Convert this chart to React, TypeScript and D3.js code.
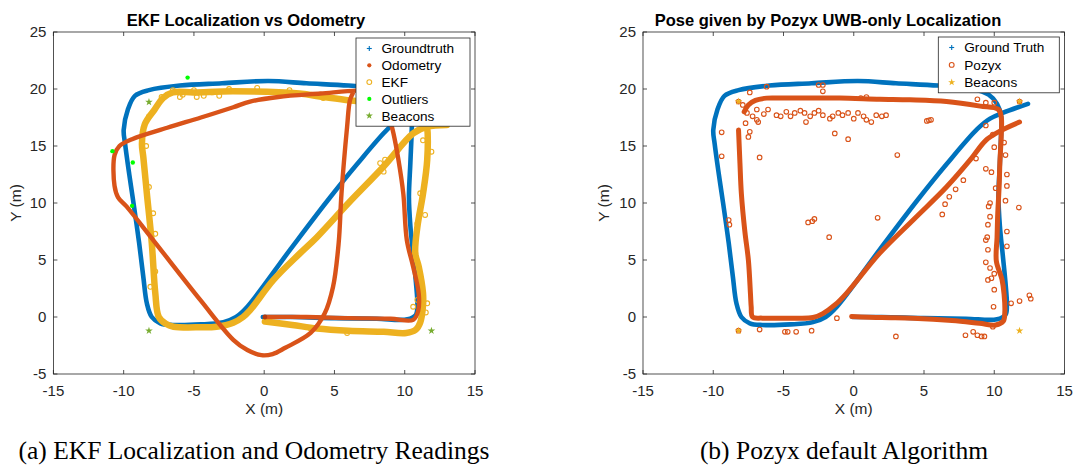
import React from "react";
import * as d3 from "d3";

type P = [number, number];

const xTicks = [-15, -10, -5, 0, 5, 10, 15];
const yTicks = [-5, 0, 5, 10, 15, 20, 25];

const groundTruth: P[] = [
  [-0.1, 0.0], [2, 0.0], [5, -0.1], [8, -0.15], [10.2, -0.2], [10.8, 0.2], [10.9, 1.0], [10.8, 3], [10.6, 5.5],
  [10.4, 8], [10.3, 10.5], [10.4, 13.5], [10.5, 16.5], [10.5, 17.6], [10.2, 18.7], [9.6, 19.5], [8.5, 20.0],
  [6, 20.3], [3, 20.5], [0.3, 20.7], [-3, 20.5], [-6, 20.3], [-8.2, 19.9], [-9.2, 19.4], [-9.7, 18.2],
  [-10.0, 16.4], [-9.9, 15.2], [-9.6, 12.5], [-9.3, 10], [-8.9, 6.5], [-8.6, 3.5], [-8.35, 1.2], [-8.0, 0.0],
  [-7.4, -0.55], [-6.5, -0.7], [-4.5, -0.65], [-2.9, -0.45], [-2.0, 0.0], [-1.2, 0.9], [1.9, 6.0],
  [4.5, 10.2], [6.6, 13.4], [8.8, 16.5], [9.7, 17.4], [10.6, 17.9], [12.4, 18.7],
];

const odometry: P[] = [
  [0.05, 0.0], [3, 0.0], [6, -0.1], [9, -0.15], [10.6, -0.25], [10.95, 0.5], [11.0, 2.0], [10.6, 4.4],
  [10.15, 6.75], [9.9, 10.8], [9.55, 13.8], [9.2, 16.1], [8.95, 17.3], [8.6, 18.9], [8.0, 19.6], [6.8, 19.85],
  [4, 19.6], [1, 19.3], [-1, 18.9], [-2.2, 18.4], [-4.5, 17.5], [-6.9, 16.6], [-9.4, 15.6], [-10.3, 15.0],
  [-10.65, 14.2], [-10.65, 11.5], [-10.4, 10.5], [-9.8, 9.7], [-7.9, 6.75], [-4.55, 1.5], [-2.2, -2.0],
  [-1.2, -2.9], [-0.2, -3.35], [0.6, -3.25], [1.5, -2.7], [3.3, -1.4], [4.3, 0.3], [4.9, 2.65], [5.3, 6.5],
  [5.5, 10.85], [5.9, 16.7], [6.1, 19.0], [6.3, 19.6],
];

const ekf: P[] = [
  [0.05, -0.4], [2, -0.7], [3.75, -1.0], [6, -1.2], [8.5, -1.3], [10.1, -1.4], [10.8, -1.1], [11.1, -0.5],
  [11.3, 1.0], [11.3, 2.1], [11.0, 4.4], [10.75, 5.6], [10.9, 7.9], [11.3, 10.8], [11.6, 13.8], [11.6, 16.7],
  [11.4, 18.0], [10.7, 18.6], [8.5, 18.8], [6.1, 19.0], [4.2, 19.3], [2.5, 19.6], [-2.2, 19.8], [-5, 19.7],
  [-6.5, 19.7], [-7.2, 19.2], [-7.8, 18.2], [-8.5, 16.9], [-8.7, 15.2], [-8.6, 14], [-8.35, 10.85],
  [-8.0, 6.5], [-7.75, 2.1], [-7.5, 0.0], [-7.0, -0.6], [-6.45, -0.85], [-4.5, -0.9], [-3.4, -0.85],
  [-2.2, -0.5], [-1.5, 0.0], [-1.0, 0.6], [0.66, 3.25], [2.56, 5.6], [3.75, 7.0], [6, 10.0], [8.5, 13.2],
  [10.6, 16.1], [11.6, 16.7], [13.0, 16.85],
];

const ekfNoise: P[] = [
  [-7.3, 19.3], [-6.5, 19.9], [-5.8, 19.5], [-5.0, 19.9], [-4.3, 19.4], [-3.7, 19.7], [-2.5, 20.0],
  [-0.5, 20.1], [1.8, 19.9], [4.2, 19.2], [-8.2, 11.4], [-7.9, 9.1], [-7.75, 7.3], [-7.75, 4.0],
  [-8.1, 2.65], [-8.2, 17.6], [10.9, 1.5], [11.3, 2.1], [11.6, 1.2], [11.1, 3.5], [10.75, 5.6],
  [11.3, 15.5], [11.9, 14.5], [11.1, 10.85], [11.45, 8.95], [10.9, 8.2], [8.25, 13.5], [8.6, 13.8],
  [8.5, 12.75], [5.9, -1.4], [3.3, -1.0], [-6.0, 19.3], [-4.8, 19.3], [-3.2, 19.4], [11.5, 0.4],
  [10.6, 0.9], [-8.4, 15.0],
];

const outliers: P[] = [[-5.45, 21.0], [-10.8, 14.55], [-9.35, 13.55], [-9.4, 9.75]];

const beaconsA: P[] = [[-8.2, 18.85], [-8.2, -1.2], [11.9, -1.2], [11.9, 18.85]];

const pozyxTop: P[] = [
  [-0.15, 0.05], [2, -0.05], [4.2, -0.1], [7, -0.3], [8.95, -0.55], [10.1, -0.7], [10.65, -0.35],
  [10.75, 0.4], [10.7, 2], [10.55, 3.3], [10.15, 4.9], [10.2, 7], [10.25, 9.1], [10.35, 11.5], [10.4, 13.5],
  [10.5, 16], [10.5, 17.5], [10.3, 18.2], [9, 18.5], [6.6, 18.9], [4, 19.05], [1.85, 19.1], [-1, 19.2],
  [-2.9, 19.2], [-5, 19.2], [-6.2, 19.2], [-7.0, 19.0], [-7.5, 18.6], [-7.8, 18.0],
];

const pozyxLoop: P[] = [
  [-8.2, 16.4], [-8.1, 13.5], [-8.0, 10.85], [-7.75, 7.5], [-7.5, 5.0], [-7.35, 2.0], [-7.3, 0.9], [-7.2, 0.0],
  [-6.5, -0.1], [-4.5, -0.1], [-2.9, -0.05], [-2.2, 0.3], [-1.3, 1.1], [-0.5, 2.1], [1.85, 5.6],
  [4.3, 8.6], [6.6, 11.4], [8.3, 13.8], [9.4, 15.5], [10.4, 16.3], [11.8, 17.1],
];

const pozyxScatter: P[] = [
  [-6.2, 20.2], [-7.4, 19.7], [-2.5, 20.35], [-2.2, 20.35], [-2.2, 19.8], [-7.9, 18.6], [-9.4, 16.2],
  [-9.4, 14.1], [-6.7, 14.0], [-8.9, 8.5], [-8.85, 8.1], [-1.35, 16.1], [-0.4, 15.6], [3.1, 14.2],
  [-3.25, 8.3], [-2.95, 8.4], [-2.8, 8.6], [-1.75, 7.0], [1.7, 8.7], [5.2, 17.2], [5.35, 17.25],
  [5.5, 17.3], [8.8, 19.1], [9.4, 18.8], [10.0, 18.8], [9.4, 16.8], [7.8, 12.0], [7.25, 11.2],
  [6.8, 10.55], [6.5, 9.9], [6.3, 9.0], [11.75, 9.6], [11.8, 1.4], [12.5, 1.9], [12.6, 1.6], [-1.2, -0.1],
  [-6.7, -1.1], [-4.9, -1.3], [-4.7, -1.3], [-4.1, -1.3], [-3.0, -1.2], [3.0, -1.7], [7.95, -1.6],
  [8.5, -1.3], [8.8, -1.6], [9.1, -1.7], [9.3, -1.7], [9.9, -0.85], [9.4, 6.75], [9.55, 5.9], [9.7, 4.3],
  [9.8, 3.4], [9.55, 3.25], [10.0, 2.4], [9.95, 0.9], [9.4, 4.8], [10.0, 14.9], [8.7, 13.9], [9.4, 13.0],
  [9.8, 12.7], [9.7, 10.0], [9.6, 9.7], [9.7, 8.8], [9.55, 8.1], [9.5, 7.0], [11.2, 1.2], [10.9, 11.5],
  [10.9, 12.5], [10.8, 14.2], [10.9, 7.5], [9.9, 16.0], [-7.6, 17.9], [-6.9, 18.2], [-6.1, 18.2],
  [-5.5, 17.7], [-4.8, 18.0], [-4.2, 17.9], [-3.5, 17.9], [-2.8, 17.9], [-2.2, 17.7], [-1.7, 17.4],
  [-1.5, 17.6], [-0.8, 17.7], [-0.4, 17.9], [0.0, 17.4], [0.3, 17.9], [0.7, 17.6], [0.9, 17.3],
  [1.25, 17.1], [1.6, 17.7], [2.0, 17.6], [2.3, 17.7], [-3.4, 17.1], [-6.8, 17.1], [-7.4, 16.25],
  [-6.9, 17.3], [-8.2, 18.9], [-8.2, -1.2], [11.8, 18.9], [0.9, 19.3], [0.5, 19.2], [-7.2, 17.6],
  [-6.4, 17.8], [-5.2, 17.6], [-4.5, 17.6], [-3.8, 18.1], [-3.1, 17.6], [-2.5, 18.1], [-1.1, 17.9],
  [-7.7, 17.0], [-7.5, 15.8], [10.7, 15.3], [10.8, 10.2], [10.9, 6.2], [10.1, 11.3], [10.0, 3.8],
];

const beaconsB: P[] = [[-8.2, 18.9], [-8.2, -1.2], [11.8, 18.9], [11.8, -1.2]];

const BLUE = "#0072BD";
const ORANGE = "#D95319";
const YELLOW = "#EDB120";
const GREEN = "#00FF00";
const BGREEN = "#77AC30";
const AXC = "#262626";
const FONT = "'Liberation Sans', Arial, Helvetica, sans-serif";

const Y0 = 374;
const Y1 = 32;

function star(size: number) {
  return d3.symbol(d3.symbolStar).size(size)() as string;
}

type LegendItem = { label: string; kind: "plus" | "dot" | "ring" | "star"; color: string };

function Axes(props: { x0: number; x1: number; title: string; titleX: number; yLabelX: number; children: (xs: any, ys: any) => React.ReactNode; legend: { x0: number; x1: number; top: number; first: number; step: number; markX: number; textX: number; items: LegendItem[] } }) {
  const { x0, x1, title, titleX, yLabelX, legend } = props;
  const xs = d3.scaleLinear().domain([-15, 15]).range([x0, x1]);
  const ys = d3.scaleLinear().domain([-5, 25]).range([Y0, Y1]);
  const tl = 4;
  const lg = legend;
  const lgBottom = lg.first + lg.step * (lg.items.length - 1) + (lg.first - lg.top);
  return (
    <g>
      {props.children(xs, ys)}
      <rect x={x0} y={Y1} width={x1 - x0} height={Y0 - Y1} fill="none" stroke={AXC} strokeWidth={0.8} />
      {xTicks.map((t) => (
        <g key={"xt" + t}>
          <line x1={xs(t)} x2={xs(t)} y1={Y0} y2={Y0 - tl} stroke={AXC} strokeWidth={0.8} />
          <line x1={xs(t)} x2={xs(t)} y1={Y1} y2={Y1 + tl} stroke={AXC} strokeWidth={0.8} />
          <text x={xs(t)} y={395.5} textAnchor="middle" fontSize={15} fill={AXC} fontFamily={FONT}>{t}</text>
        </g>
      ))}
      {yTicks.map((t) => (
        <g key={"yt" + t}>
          <line x1={x0} x2={x0 + tl} y1={ys(t)} y2={ys(t)} stroke={AXC} strokeWidth={0.8} />
          <line x1={x1} x2={x1 - tl} y1={ys(t)} y2={ys(t)} stroke={AXC} strokeWidth={0.8} />
          <text x={x0 - 7} y={ys(t) + 5.3} textAnchor="end" fontSize={15} fill={AXC} fontFamily={FONT}>{t}</text>
        </g>
      ))}
      <text x={(x0 + x1) / 2} y={414} textAnchor="middle" fontSize={15.5} fill={AXC} fontFamily={FONT}>X (m)</text>
      <text transform={`translate(${yLabelX},${(Y0 + Y1) / 2}) rotate(-90)`} textAnchor="middle" fontSize={15.5} fill={AXC} fontFamily={FONT}>Y (m)</text>
      <text x={titleX} y={25.5} textAnchor="middle" fontSize={16.5} fontWeight="bold" fill="#000" fontFamily={FONT}>{title}</text>
      <rect x={lg.x0} y={lg.top} width={lg.x1 - lg.x0} height={lgBottom - lg.top} fill="#fff" stroke={AXC} strokeWidth={0.8} />
      {lg.items.map((it, i) => {
        const cy = lg.first + i * lg.step;
        const mx = lg.markX;
        let mark: React.ReactNode = null;
        if (it.kind === "plus")
          mark = (
            <g stroke={it.color} strokeWidth={1.1}>
              <line x1={mx - 2.5} x2={mx + 2.5} y1={cy} y2={cy} />
              <line x1={mx} x2={mx} y1={cy - 2.5} y2={cy + 2.5} />
            </g>
          );
        else if (it.kind === "dot") mark = <circle cx={mx} cy={cy} r={2.1} fill={it.color} />;
        else if (it.kind === "ring") mark = <circle cx={mx} cy={cy} r={2.4} fill="none" stroke={it.color} strokeWidth={1.1} />;
        else mark = <path d={star(16)} transform={`translate(${mx},${cy})`} fill={it.color} />;
        return (
          <g key={it.label}>
            {mark}
            <text x={lg.textX} y={cy + 4.8} fontSize={13.6} fill="#000" fontFamily={FONT}>{it.label}</text>
          </g>
        );
      })}
    </g>
  );
}

export default function App() {
  const curve = d3.curveCatmullRom.alpha(0.5);
  const mkLine = (xs: any, ys: any) => d3.line<P>().x((d) => xs(d[0])).y((d) => ys(d[1])).curve(curve);
  return (
    <div style={{ position: "absolute", left: 0, top: 0 }}>
      <svg width={1073} height={465} style={{ display: "block", background: "#fff" }}>
        <Axes
          x0={53.4}
          x1={475}
          title="EKF Localization vs Odometry"
          titleX={246}
          yLabelX={21}
          legend={{
            x0: 356, x1: 470, top: 38, first: 48.5, step: 16.8, markX: 369.3, textX: 381.5,
            items: [
              { label: "Groundtruth", kind: "plus", color: BLUE },
              { label: "Odometry", kind: "dot", color: ORANGE },
              { label: "EKF", kind: "ring", color: YELLOW },
              { label: "Outliers", kind: "dot", color: GREEN },
              { label: "Beacons", kind: "star", color: BGREEN },
            ],
          }}
        >
          {(xs, ys) => {
            const line = mkLine(xs, ys);
            return (
              <g>
                <path d={line(groundTruth) as string} fill="none" stroke={BLUE} strokeWidth={4.6} strokeLinecap="round" strokeLinejoin="round" />
                <path d={line(ekf) as string} fill="none" stroke={YELLOW} strokeWidth={6.5} strokeLinecap="round" strokeLinejoin="round" />
                {ekfNoise.map((d, i) => (
                  <circle key={"en" + i} cx={xs(d[0])} cy={ys(d[1])} r={2.4} fill="none" stroke={YELLOW} strokeWidth={1.1} />
                ))}
                <path d={line(odometry) as string} fill="none" stroke={ORANGE} strokeWidth={4.4} strokeLinecap="round" strokeLinejoin="round" />
                <circle cx={xs(odometry[0][0])} cy={ys(odometry[0][1])} r={2.4} fill="#B03A10" />
                {outliers.map((d, i) => (
                  <circle key={"o" + i} cx={xs(d[0])} cy={ys(d[1])} r={2.2} fill={GREEN} />
                ))}
                {beaconsA.map((d, i) => (
                  <path key={"b" + i} d={star(18)} transform={`translate(${xs(d[0])},${ys(d[1])})`} fill={BGREEN} />
                ))}
              </g>
            );
          }}
        </Axes>
        <Axes
          x0={643}
          x1={1064.5}
          title="Pose given by Pozyx UWB-only Localization"
          titleX={828}
          yLabelX={609}
          legend={{
            x0: 938.3, x1: 1059.3, top: 37, first: 47.5, step: 17.4, markX: 951.7, textX: 964.3,
            items: [
              { label: "Ground Truth", kind: "plus", color: BLUE },
              { label: "Pozyx", kind: "ring", color: ORANGE },
              { label: "Beacons", kind: "star", color: YELLOW },
            ],
          }}
        >
          {(xs, ys) => {
            const line = mkLine(xs, ys);
            return (
              <g>
                <path d={line(groundTruth) as string} fill="none" stroke={BLUE} strokeWidth={4.6} strokeLinecap="round" strokeLinejoin="round" />
                <path d={line(pozyxTop) as string} fill="none" stroke={ORANGE} strokeWidth={5} strokeLinecap="round" strokeLinejoin="round" />
                <path d={line(pozyxLoop) as string} fill="none" stroke={ORANGE} strokeWidth={5} strokeLinecap="round" strokeLinejoin="round" />
                {pozyxScatter.map((d, i) => (
                  <circle key={"p" + i} cx={xs(d[0])} cy={ys(d[1])} r={2.3} fill="none" stroke={ORANGE} strokeWidth={1.1} />
                ))}
                {beaconsB.map((d, i) => (
                  <path key={"bb" + i} d={star(18)} transform={`translate(${xs(d[0])},${ys(d[1])})`} fill={YELLOW} />
                ))}
              </g>
            );
          }}
        </Axes>
        <text x={254} y={459} textAnchor="middle" fontSize={25.5} fill="#000" fontFamily="'Liberation Serif', 'Times New Roman', serif">(a) EKF Localization and Odometry Readings</text>
        <text x={844} y={459} textAnchor="middle" fontSize={25.5} fill="#000" fontFamily="'Liberation Serif', 'Times New Roman', serif">(b) Pozyx default Algorithm</text>
      </svg>
    </div>
  );
}
